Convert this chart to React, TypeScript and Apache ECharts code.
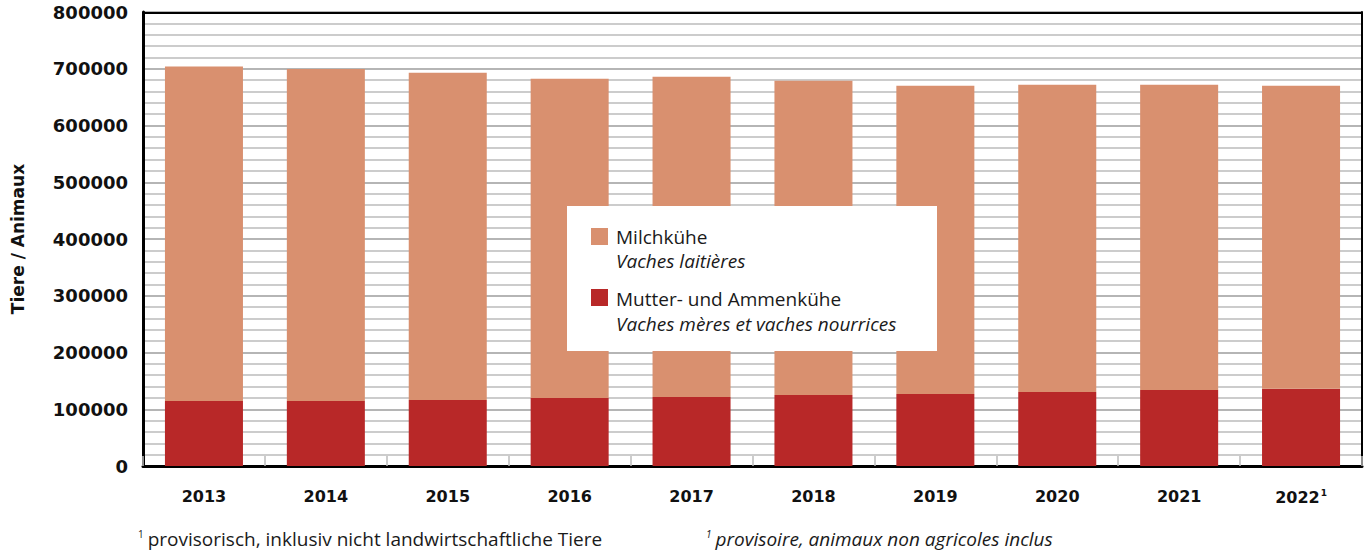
import React, { useEffect, useRef } from "react";
import * as echarts from "echarts";

const years = ["2013", "2014", "2015", "2016", "2017", "2018", "2019", "2020", "2021", "2022"];
const mutterkuehe = [114700, 114700, 116400, 120000, 121700, 125000, 127000, 130500, 134000, 136000];
const milchkuehe = [589300, 584800, 576600, 562500, 564300, 554000, 543000, 541500, 538000, 534000];
const yTicks = [0, 100000, 200000, 300000, 400000, 500000, 600000, 700000, 800000];

const LIGHT = "#D9906F";
const DARK = "#B82828";

export default function App() {
  const ref = useRef<HTMLDivElement>(null);
  useEffect(() => {
    const chart = echarts.init(ref.current!, null, { renderer: "svg" });
    const axisFont = "'DejaVu Sans', sans-serif";
    const txtFont = "'Open Sans', 'Noto Sans', sans-serif";
    const txt = (text: string, x: number, y: number, italic: boolean) => ({
      type: "text",
      x,
      y,
      z: 101,
      style: {
        text,
        fontFamily: txtFont,
        fontSize: 19,
        fontStyle: italic ? "italic" : "normal",
        fill: "#1a1a1a",
        verticalAlign: "middle",
      },
    });
    const foot = (text: string, x: number, y: number, italic: boolean) => ({
      type: "text",
      x,
      y,
      z: 101,
      style: {
        text: "{s|1}{t|" + text + "}",
        verticalAlign: "middle",
        rich: {
          s: { fontFamily: txtFont, fontSize: 10, fill: "#1a1a1a", verticalAlign: "top", padding: [0, 4, 10, 0], fontStyle: italic ? "italic" : "normal" },
          t: { fontFamily: txtFont, fontSize: 19, fill: "#1a1a1a", fontStyle: italic ? "italic" : "normal" },
        },
      },
    });
    chart.setOption({
      animation: false,
      grid: { left: 143, right: 7, top: 12, bottom: 90, show: false },
      xAxis: {
        type: "category",
        data: years,
        axisLine: { lineStyle: { color: "#000", width: 3 } },
        axisTick: { show: true, inside: true, length: 10, interval: 0, lineStyle: { color: "#bbb", width: 1.5 } },
        axisLabel: {
          interval: 0,
          margin: 22,
          fontFamily: axisFont,
          fontWeight: "bold",
          fontSize: 16,
          color: "#111",
          formatter: (v: string) => (v === "2022" ? "{y|2022}{s|1}" : "{y|" + v + "}"),
          rich: {
            y: { fontFamily: axisFont, fontWeight: "bold", fontSize: 16, color: "#111" },
            s: { fontFamily: axisFont, fontWeight: "bold", fontSize: 9, color: "#111", verticalAlign: "top", padding: [0, 0, 9, 1] },
          },
        },
      },
      yAxis: [
        {
          type: "value",
          min: 0,
          max: 800000,
          interval: 100000,
          name: "Tiere / Animaux",
          nameLocation: "middle",
          nameRotate: 90,
          nameGap: 117,
          nameTextStyle: { fontFamily: axisFont, fontWeight: "bold", fontSize: 17, color: "#111" },
          axisLine: { show: true, lineStyle: { color: "#000", width: 3 } },
          axisTick: { show: false },
          axisLabel: {
            margin: 15,
            fontFamily: axisFont,
            fontWeight: "bold",
            fontSize: 18,
            color: "#111",
            formatter: (v: number) => (yTicks.includes(v) ? String(v) : ""),
          },
          splitLine: { show: true, lineStyle: { color: "#b5b5b5", width: 2 } },
          minorTick: { show: false, splitNumber: 5 },
          minorSplitLine: { show: true, lineStyle: { color: "#cccccc", width: 2 } },
        },
        {
          type: "value",
          min: 0,
          max: 800000,
          interval: 100000,
          position: "right",
          axisLine: { show: true, lineStyle: { color: "#000", width: 2 } },
          axisTick: { show: false },
          axisLabel: { show: false },
          splitLine: { show: false },
        },
      ],
      graphic: [
        {
          type: "line",
          z: 50,
          shape: { x1: 143, y1: 13, x2: 1362, y2: 13 },
          style: { stroke: "#000", lineWidth: 2 },
        },
        { type: "rect", shape: { x: 567, y: 206, width: 370, height: 145 }, style: { fill: "#fff" }, z: 100 },
        { type: "rect", shape: { x: 591, y: 228, width: 17, height: 17 }, style: { fill: LIGHT }, z: 101 },
        { type: "rect", shape: { x: 591, y: 289, width: 17, height: 17 }, style: { fill: DARK }, z: 101 },
        txt("Milchkühe", 616, 237, false),
        txt("Vaches laitières", 616, 261, true),
        txt("Mutter- und Ammenkühe", 616, 299, false),
        txt("Vaches mères et vaches nourrices", 616, 323.5, true),
        foot("provisorisch, inklusiv nicht landwirtschaftliche Tiere", 138, 539, false),
        foot("provisoire, animaux non agricoles inclus", 706, 539, true),
      ],
      series: [
        {
          name: "Mutter- und Ammenkühe",
          type: "bar",
          stack: "total",
          data: mutterkuehe,
          barWidth: "64%",
          itemStyle: { color: DARK },
        },
        {
          name: "Milchkühe",
          type: "bar",
          stack: "total",
          data: milchkuehe,
          barWidth: "64%",
          itemStyle: { color: LIGHT },
        },
      ],
    });
    return () => chart.dispose();
  }, []);
  return <div ref={ref} style={{ width: 1369, height: 556, position: "absolute", left: 0, top: 0 }} />;
}
